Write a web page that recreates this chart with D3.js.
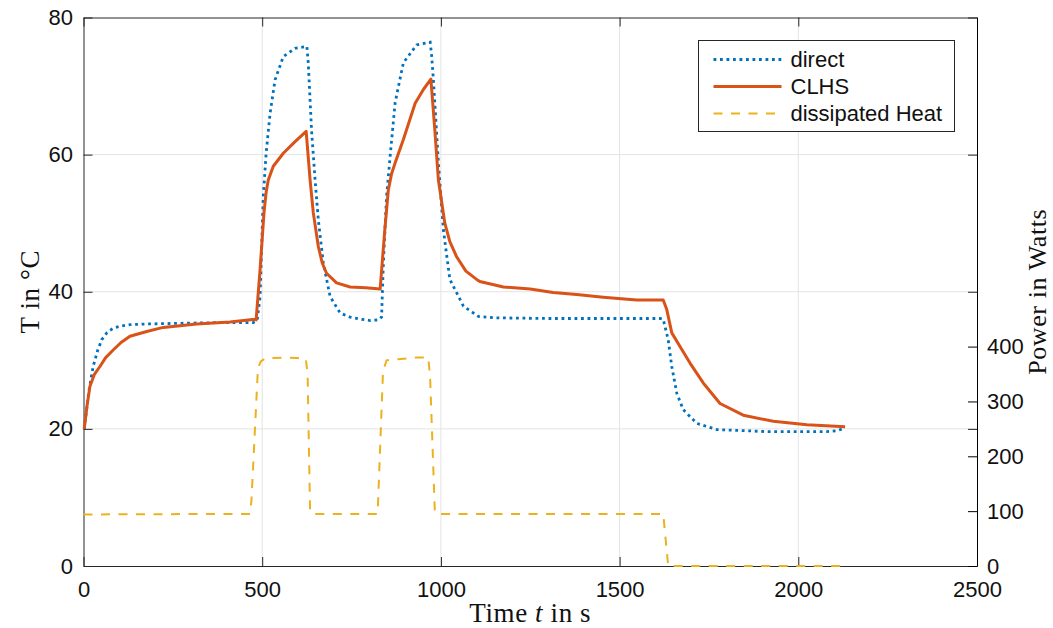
<!DOCTYPE html>
<html>
<head>
<meta charset="utf-8">
<script src="https://cdn.jsdelivr.net/npm/d3@7"></script>
<style>
  body { margin: 0; background: #fff; }
  svg { display: block; }
</style>
</head>
<body>
<script>
// time (s) and temperature (°C) of the direct heating
var directTime = [2, 15, 27, 40, 51, 65, 83, 105, 130, 180, 270, 380, 475, 486, 494, 503, 511, 522, 536, 559, 592, 625, 629, 638, 648, 657, 671, 690, 718, 746, 775, 802, 826, 834, 839, 848, 858, 872, 895, 932, 970, 974, 979, 993, 1007, 1025, 1063, 1105, 1150, 1300, 1450, 1613, 1622, 1636, 1646, 1660, 1678, 1716, 1772, 1912, 2080, 2105, 2131];
var directTemp = [20, 25.5, 29.1, 31.5, 33.0, 34.0, 34.7, 35.0, 35.2, 35.3, 35.4, 35.5, 35.5, 35.8, 39.3, 53.9, 60.2, 66.0, 70.9, 74.3, 75.5, 75.8, 73.3, 63.6, 56.3, 50.5, 44.2, 39.3, 36.9, 36.3, 36.0, 35.8, 35.9, 36.3, 44.2, 53.9, 59.8, 67.6, 73.4, 76.0, 76.4, 74.5, 70.9, 58.8, 49.0, 41.8, 37.9, 36.4, 36.2, 36.1, 36.1, 36.1, 36.0, 33.0, 29.1, 25.2, 22.8, 20.8, 19.9, 19.6, 19.6, 19.7, 20.1];

// time (s) and temperature (°C) of the CLHS
var clhsTime = [2, 10, 18, 30, 46, 62, 83, 105, 130, 177, 223, 317, 410, 480, 483, 494, 505, 511, 517, 531, 559, 592, 623, 634, 643, 657, 668, 680, 708, 746, 790, 830, 843, 853, 862, 872, 895, 928, 951, 972, 983, 993, 1011, 1025, 1044, 1070, 1100, 1109, 1175, 1250, 1314, 1380, 1454, 1548, 1622, 1632, 1646, 1669, 1697, 1734, 1781, 1846, 1930, 2024, 2131];
var clhsTemp = [20, 23.4, 26.2, 27.9, 29.1, 30.4, 31.5, 32.6, 33.5, 34.2, 34.8, 35.3, 35.6, 36.0, 35.9, 43.2, 51.5, 54.5, 56.3, 58.3, 60.2, 61.9, 63.4, 56.3, 51.5, 46.6, 44.2, 42.7, 41.3, 40.7, 40.6, 40.4, 49.0, 54.9, 57.2, 58.8, 62.2, 67.5, 69.5, 71.0, 63.6, 56.3, 50.0, 47.3, 45.1, 43.0, 41.8, 41.5, 40.7, 40.4, 39.9, 39.6, 39.2, 38.8, 38.8, 37.4, 34.0, 32.0, 29.6, 26.7, 23.7, 22.0, 21.1, 20.6, 20.3];

// time (s) and dissipated heat (W)
var heatTime = [0, 466, 470, 488, 496, 510, 560, 600, 622, 627, 634, 640, 823, 838, 848, 880, 930, 965, 970, 983, 988, 1622, 1636, 2125];
var heatPower = [94, 95, 120, 360, 373, 379, 380, 379, 378, 350, 100, 95, 95, 355, 375, 377, 380, 380, 340, 100, 95, 95, 0, 0];

var xTicks = [0, 500, 1000, 1500, 2000, 2500];
var tempTicks = [0, 20, 40, 60, 80];
var powerTicks = [0, 100, 200, 300, 400];

var legendNames = ["direct", "CLHS", "dissipated Heat"];
var colors = ["#0072BD", "#D95319", "#EDB120"];

var W = 1053, H = 628;
var margin = {top: 17.5, right: 76, bottom: 62, left: 83.5};
var innerW = W - margin.left - margin.right;
var innerH = H - margin.top - margin.bottom;

var svg = d3.select("body").append("svg")
    .attr("width", W)
    .attr("height", H);

var g = svg.append("g")
    .attr("transform", "translate(" + margin.left + "," + margin.top + ")");

var x = d3.scaleLinear().domain([0, 2500]).range([0, innerW]);
var yT = d3.scaleLinear().domain([0, 80]).range([innerH, 0]);
var yP = d3.scaleLinear().domain([0, 1000]).range([innerH, 0]);

// grid
g.append("g").selectAll("line")
    .data(xTicks.slice(1, -1))
    .enter().append("line")
    .attr("x1", function(d) { return x(d); })
    .attr("x2", function(d) { return x(d); })
    .attr("y1", 0).attr("y2", innerH)
    .attr("stroke", "#e3e3e3").attr("stroke-width", 1);
g.append("g").selectAll("line")
    .data(tempTicks.slice(1, -1))
    .enter().append("line")
    .attr("y1", function(d) { return yT(d); })
    .attr("y2", function(d) { return yT(d); })
    .attr("x1", 0).attr("x2", innerW)
    .attr("stroke", "#e3e3e3").attr("stroke-width", 1);

var tickFont = "'Liberation Sans', Arial, sans-serif";
var tl = 9;
var fmt = d3.format("d");

// bottom axis
g.append("g")
    .attr("transform", "translate(0," + innerH + ")")
    .call(d3.axisBottom(x).tickValues(xTicks).tickFormat(fmt).tickSizeInner(-tl).tickSizeOuter(0).tickPadding(15));
// top ticks
g.append("g")
    .call(d3.axisTop(x).tickValues(xTicks).tickSizeInner(-tl).tickSizeOuter(0).tickFormat(""));
// left axis
g.append("g")
    .call(d3.axisLeft(yT).tickValues(tempTicks).tickFormat(fmt).tickSizeInner(-tl).tickSizeOuter(0).tickPadding(10.5));
// right mirrored temperature ticks
g.append("g")
    .attr("transform", "translate(" + innerW + ",0)")
    .call(d3.axisRight(yT).tickValues(tempTicks).tickSizeInner(-tl).tickSizeOuter(0).tickFormat(""));
// right power axis
var rAxis = g.append("g")
    .attr("transform", "translate(" + innerW + ",0)")
    .call(d3.axisRight(yP).tickValues(powerTicks).tickFormat(fmt).tickSizeInner(-tl).tickSizeOuter(0).tickPadding(10));

g.selectAll(".domain").attr("stroke", "#262626");
g.selectAll(".tick line").attr("stroke", "#262626");
g.selectAll(".tick text")
    .attr("font-family", tickFont)
    .attr("font-size", 22)
    .attr("fill", "#111");
rAxis.selectAll(".domain, .tick line").attr("stroke", "#000");

// lines
var lineDirect = d3.line()
    .x(function(d, i) { return x(directTime[i]); })
    .y(function(d) { return yT(d); });
var lineClhs = d3.line()
    .x(function(d, i) { return x(clhsTime[i]); })
    .y(function(d) { return yT(d); });
var lineHeat = d3.line()
    .x(function(d, i) { return x(heatTime[i]); })
    .y(function(d) { return yP(d); });

g.append("path")
    .datum(heatPower)
    .attr("d", lineHeat)
    .attr("fill", "none")
    .attr("stroke", colors[2])
    .attr("stroke-width", 2)
    .attr("stroke-dasharray", "9,8.5");

g.append("path")
    .datum(directTemp)
    .attr("d", lineDirect)
    .attr("fill", "none")
    .attr("stroke", colors[0])
    .attr("stroke-width", 2.8)
    .attr("stroke-dasharray", "2.8,3.7");

g.append("path")
    .datum(clhsTemp)
    .attr("d", lineClhs)
    .attr("fill", "none")
    .attr("stroke", colors[1])
    .attr("stroke-width", 3)
    .attr("stroke-linejoin", "round");

// legend
var lg = svg.append("g").attr("transform", "translate(698.5,40.5)");
lg.append("rect")
    .attr("width", 256).attr("height", 91)
    .attr("fill", "#fff")
    .attr("stroke", "#262626").attr("stroke-width", 1);
var dashes = ["2.8,3.7", null, "9,8.5"];
var widths = [2.8, 3, 2];
legendNames.forEach(function(name, i) {
    var yy = 19 + i * 27;
    lg.append("line")
        .attr("x1", 15).attr("x2", 83)
        .attr("y1", yy).attr("y2", yy)
        .attr("stroke", colors[i])
        .attr("stroke-width", widths[i])
        .attr("stroke-dasharray", dashes[i]);
    lg.append("text")
        .attr("x", 92).attr("y", yy)
        .attr("dy", "0.35em")
        .attr("font-family", tickFont)
        .attr("font-size", 22)
        .attr("fill", "#111")
        .text(name);
});

// axis titles
var serif = "'Liberation Serif', 'Times New Roman', serif";
var xt = svg.append("text")
    .attr("x", margin.left + innerW / 2)
    .attr("y", 622)
    .attr("text-anchor", "middle")
    .attr("font-family", serif)
    .attr("font-size", 27)
    .attr("letter-spacing", 0.6)
    .attr("fill", "#111");
xt.append("tspan").text("Time ");
xt.append("tspan").attr("font-style", "italic").text("t");
xt.append("tspan").text(" in s");

svg.append("text")
    .attr("transform", "translate(39," + (margin.top + innerH / 2) + ") rotate(-90)")
    .attr("text-anchor", "middle")
    .attr("font-family", serif)
    .attr("font-size", 27)
    .attr("letter-spacing", 0.6)
    .attr("fill", "#111")
    .text("T in °C");

svg.append("text")
    .attr("transform", "translate(1046," + (margin.top + innerH / 2) + ") rotate(-90)")
    .attr("text-anchor", "middle")
    .attr("font-family", serif)
    .attr("font-size", 26)
    .attr("letter-spacing", 0.6)
    .attr("fill", "#111")
    .text("Power in Watts");
</script>
</body>
</html>
